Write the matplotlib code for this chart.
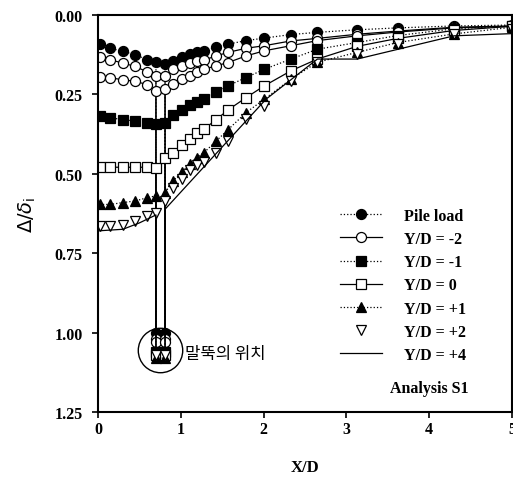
import numpy as np
import matplotlib.pyplot as plt

plt.rcParams['font.family'] = ['Liberation Serif', 'DejaVu Serif']

# pile faces
pile_l = 0.70
pile_r = 0.81

# left side sample points (0 -> pile)
xl = [0.02, 0.15, 0.30, 0.45, 0.59, 0.70]
# right side sample points (pile -> 5)
xr = [0.81, 0.91, 1.01, 1.11, 1.19, 1.28, 1.43, 1.57, 1.79, 2.01, 2.33, 2.65, 3.13, 3.62, 4.30, 5.00]

pile_load_l = [0.093, 0.106, 0.116, 0.126, 0.142, 0.150]
pile_load_r = [0.156, 0.145, 0.135, 0.124, 0.119, 0.114, 0.103, 0.093, 0.082, 0.074, 0.063, 0.056, 0.048, 0.042, 0.036, 0.033]
pile_load_p = 1.00

m2_l = [0.135, 0.142, 0.153, 0.163, 0.180, 0.193]
m2_r = [0.193, 0.172, 0.163, 0.152, 0.147, 0.143, 0.130, 0.119, 0.106, 0.098, 0.083, 0.075, 0.062, 0.052, 0.040, 0.036]
m2_p = 1.02

m3_l = [0.195, 0.199, 0.205, 0.210, 0.220, 0.240]
m3_r = [0.235, 0.219, 0.203, 0.193, 0.182, 0.172, 0.161, 0.151, 0.130, 0.114, 0.098, 0.082, 0.067, 0.055, 0.042, 0.037]
m3_p = 1.03

m1_l = [0.320, 0.325, 0.330, 0.335, 0.340, 0.345]
m1_r = [0.340, 0.316, 0.300, 0.285, 0.274, 0.266, 0.245, 0.224, 0.198, 0.172, 0.140, 0.109, 0.088, 0.066, 0.045, 0.035]
m1_p = 1.06

z0_l = [0.478, 0.480, 0.480, 0.480, 0.480, 0.481]
z0_r = [0.450, 0.434, 0.410, 0.390, 0.372, 0.360, 0.330, 0.300, 0.261, 0.224, 0.177, 0.140, 0.100, 0.075, 0.050, 0.037]
z0_p = 1.07

p1_l = [0.597, 0.597, 0.591, 0.586, 0.576, 0.570]
p1_r = [0.560, 0.522, 0.495, 0.470, 0.450, 0.434, 0.397, 0.362, 0.308, 0.266, 0.203, 0.150, 0.119, 0.088, 0.061, 0.040]
p1_p = 1.08

p2_l = [0.665, 0.665, 0.660, 0.649, 0.633, 0.623]
p2_r = [0.585, 0.544, 0.518, 0.490, 0.472, 0.465, 0.434, 0.397, 0.329, 0.287, 0.210, 0.150, 0.124, 0.093, 0.061, 0.045]
p2_p = 1.07

p4_x = [0.00, 0.30, 0.50, 0.70, 0.70, 0.81, 0.81, 2.03, 2.65, 3.13, 4.30, 5.00]
p4_y = [0.680, 0.675, 0.655, 0.630, 1.05, 1.05, 0.612, 0.266, 0.140, 0.140, 0.067, 0.060]

circle_x, circle_y = 0.75, 1.055

fig = plt.figure(figsize=(5.13, 4.85), dpi=100)
ax = fig.add_axes([0.191, 0.148, 0.807, 0.82])


def path(left, p, right):
    xs = xl + [pile_l, pile_r] + xr
    ys = left + [p, p] + right
    return xs, ys


series = [
    (pile_load_l, pile_load_p, pile_load_r, dict(ls=':', marker='o', mfc='black'), 'Pile load'),
    (m2_l, m2_p, m2_r, dict(ls='-', marker='o', mfc='white'), 'Y/D = -2'),
    (m3_l, m3_p, m3_r, dict(ls='-', marker='o', mfc='white'), '_nolegend_'),
    (m1_l, m1_p, m1_r, dict(ls=':', marker='s', mfc='black'), 'Y/D = -1'),
    (z0_l, z0_p, z0_r, dict(ls='-', marker='s', mfc='white'), 'Y/D = 0'),
    (p1_l, p1_p, p1_r, dict(ls=':', marker='^', mfc='black'), 'Y/D = +1'),
    (p2_l, p2_p, p2_r, dict(ls='none', marker='v', mfc='white'), 'Y/D = +2'),
]

for left, p, right, st, lab in series:
    xs, ys = path(left, p, right)
    ax.plot(xs, ys, color='black', lw=0.9, ms=7.2, mec='black', mew=0.9,
            label=lab, **st)
ax.plot(p4_x, p4_y, color='black', lw=0.9, ls='-', label='Y/D = +4')

ax.plot(circle_x, circle_y, marker='o', ms=32, mfc='none', mec='black', mew=1.0)
ax.text(1.05, 1.065, '말뚝의 위치', fontsize=12, va='center', ha='left',
        family=['Noto Sans CJK KR', 'DejaVu Sans'])

ax.text(4.0, 1.175, 'Analysis S1', fontsize=11.5, fontweight='bold', ha='center', va='center')

ax.set_xlim(0, 5)
ax.set_ylim(1.25, 0)
ax.set_xticks([0, 1, 2, 3, 4, 5])
ax.set_yticks([0, 0.25, 0.5, 0.75, 1.0, 1.25])
ax.set_yticklabels(['0.00', '0.25', '0.50', '0.75', '1.00', '1.25'])
ax.tick_params(direction='out', length=4, width=1.2, labelsize=11.5)
ax.tick_params(axis='x', pad=2)
ax.tick_params(axis='y', pad=7)
for t in ax.get_xticklabels() + ax.get_yticklabels():
    t.set_fontweight('bold')
for s in ax.spines.values():
    s.set_linewidth(1.5)

ax.set_xlabel('X/D', fontsize=12, fontweight='bold', labelpad=16)
ax.set_ylabel(r'$\Delta/\delta_\mathrm{i}$', fontsize=14, labelpad=12)

leg = ax.legend(loc='upper left', bbox_to_anchor=(0.57, 0.53), frameon=False,
                handlelength=2.6, handletextpad=1.4, labelspacing=0.45, borderaxespad=0,
                prop={'weight': 'bold', 'size': 11.5})

fig.savefig('out.png', dpi=100)
